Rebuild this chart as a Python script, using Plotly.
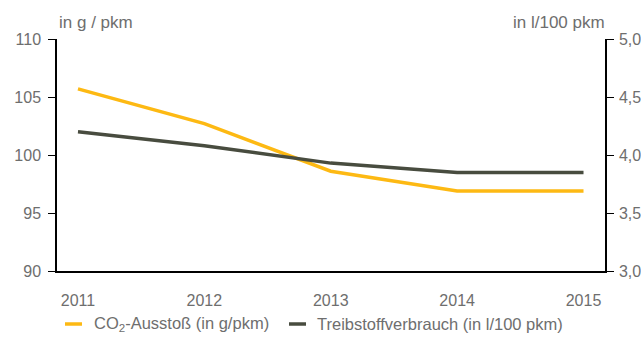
import plotly.graph_objects as go

years = [2011, 2012, 2013, 2014, 2015]
co2 = [105.7, 102.7, 98.6, 96.9, 96.9]          # g/pkm
fuel = [4.20, 4.08, 3.93, 3.85, 3.85]           # l/100 pkm

left_ticks = [90, 95, 100, 105, 110]
right_ticks = [3.0, 3.5, 4.0, 4.5, 5.0]
right_labels = ["3,0", "3,5", "4,0", "4,5", "5,0"]

series_names = ["CO<sub>2</sub>-Ausstoß (in g/pkm)", "Treibstoffverbrauch (in l/100 pkm)"]

YELLOW = "#FDB913"
DARK = "#484C3F"
GREY = "#6E6E6E"
FONT = "Liberation Sans, Arial, sans-serif"

W, H = 641, 338
ML, MR, MT, MB = 57, 36, 39, 67
PW, PH = W - ML - MR, H - MT - MB


def px_x(px):
    return (px - ML) / PW


def px_y(py):
    return (H - MB - py) / PH


fig = go.Figure()
fig.add_trace(go.Scatter(
    x=years, y=co2, mode="lines", name=series_names[0], showlegend=False,
    line=dict(color=YELLOW, width=3.5), yaxis="y"))
fig.add_trace(go.Scatter(
    x=years, y=fuel, mode="lines", name=series_names[1], showlegend=False,
    line=dict(color=DARK, width=3.5), yaxis="y2"))

# hand-made legend below the plot: short line sample + label
legend_y = px_y(324)
shapes = []
annotations = []
for (x0, x1, xt), name, col in zip([(65, 82, 92), (289, 306, 315)], series_names, [YELLOW, DARK]):
    shapes.append(dict(type="line", xref="paper", yref="paper",
                       x0=px_x(x0), x1=px_x(x1), y0=legend_y, y1=legend_y,
                       line=dict(color=col, width=3.5)))
    annotations.append(dict(text=name, xref="paper", yref="paper",
                            x=px_x(xt), y=legend_y, xanchor="left", yanchor="middle",
                            showarrow=False, font=dict(size=16.5, color=GREY)))

annotations += [
    dict(text="in g / pkm", xref="paper", yref="paper", x=0.0, y=1.0,
         xanchor="left", yanchor="bottom", yshift=5, xshift=0,
         showarrow=False, font=dict(size=17, color=GREY)),
    dict(text="in l/100 pkm", xref="paper", yref="paper", x=1.0, y=1.0,
         xanchor="right", yanchor="bottom", yshift=5, xshift=2,
         showarrow=False, font=dict(size=17, color=GREY)),
]

fig.update_layout(
    width=W, height=H,
    margin=dict(l=ML, r=MR, t=MT, b=MB, autoexpand=False),
    paper_bgcolor="white", plot_bgcolor="white",
    font=dict(family=FONT, size=16, color=GREY),
    showlegend=False,
    xaxis=dict(range=[2010.834, 2015.17], tickvals=years, ticks="",
               showgrid=False, zeroline=False, showline=True, automargin=False,
               linecolor="black", linewidth=1.5, ticklabelstandoff=14,
               tickfont=dict(size=16, color=GREY)),
    yaxis=dict(range=[90, 110], tickvals=left_ticks, ticks="outside",
               ticklen=7, tickcolor="black", tickwidth=1.2, automargin=False,
               showgrid=False, zeroline=False, showline=True,
               linecolor="black", linewidth=1.5, ticklabelstandoff=4,
               tickfont=dict(size=16, color=GREY)),
    yaxis2=dict(range=[3.0, 5.0], tickvals=right_ticks, ticktext=right_labels,
                overlaying="y", side="right", ticks="outside", ticklen=7,
                tickcolor="black", tickwidth=1.2, automargin=False,
                showgrid=False, zeroline=False, showline=True,
                linecolor="black", linewidth=1.5, ticklabelstandoff=2,
                tickfont=dict(size=16, color=GREY)),
    shapes=shapes,
    annotations=annotations,
)

fig.write_html("out.html")
